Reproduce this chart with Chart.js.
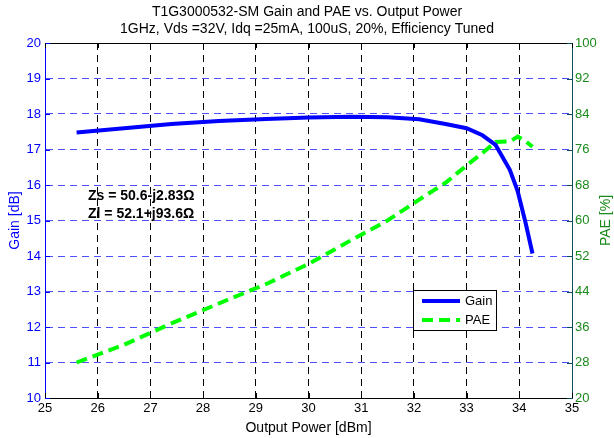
<!DOCTYPE html>
<html><head><meta charset="utf-8">
<script src="https://cdn.jsdelivr.net/npm/chart.js@4/dist/chart.umd.min.js"></script>
<style>html,body{margin:0;padding:0;background:#fff}#wrap{width:614px;height:438px}</style>
</head><body><div id="wrap"><canvas id="c" width="614" height="438"></canvas></div>
<script>
const titleLines = ["T1G3000532-SM Gain and PAE vs. Output Power", "1GHz, Vds =32V, Idq =25mA, 100uS, 20%, Efficiency Tuned"];
const outputPower = [25.6, 26.5, 27.4, 28.3, 29.2, 30.0, 30.8, 31.5, 32.1, 32.6, 33.0, 33.3, 33.55, 33.82, 33.97, 34.12, 34.25];
const gain = [17.48, 17.6, 17.72, 17.8, 17.86, 17.9, 17.92, 17.91, 17.85, 17.72, 17.6, 17.4, 17.13, 16.43, 15.82, 14.93, 14.07];
const pae = [28.0, 32.0, 36.8, 41.3, 45.7, 50.2, 55.5, 60.0, 64.7, 68.5, 72.4, 75.2, 77.7, 77.8, 78.9, 77.9, 76.6];
const xTicks = [25, 26, 27, 28, 29, 30, 31, 32, 33, 34, 35];
const gainTicks = [10, 11, 12, 13, 14, 15, 16, 17, 18, 19, 20];
const paeTicks = [20, 28, 36, 44, 52, 60, 68, 76, 84, 92, 100];
const annotations = ["Zs = 50.6-j2.83\u03A9", "Zl = 52.1+j93.6\u03A9"];
const seriesNames = ["Gain", "PAE"];

const FONT = "'Liberation Sans', Arial, sans-serif";
const gainPts = outputPower.map((x, i) => ({x, y: gain[i]}));
const paePts = outputPower.map((x, i) => ({x, y: pae[i]}));

const custom = {
  id: 'custom',
  afterDraw(chart) {
    const ctx = chart.ctx, a = chart.chartArea;
    const sx = chart.scales.x, sy = chart.scales.y, sy1 = chart.scales.y1;
    ctx.save();
    ctx.strokeStyle = '#000'; ctx.lineWidth = 1;
    ctx.beginPath(); ctx.moveTo(a.left, a.top + 0.5); ctx.lineTo(a.right, a.top + 0.5); ctx.stroke();
    ctx.strokeStyle = '#0000ff';
    gainTicks.forEach(v => { const y = Math.round(sy.getPixelForValue(v)) + 0.5; ctx.beginPath(); ctx.moveTo(a.left, y); ctx.lineTo(a.left + 5, y); ctx.stroke(); });
    ctx.strokeStyle = '#0d4d5d';
    paeTicks.forEach(v => { const y = Math.round(sy1.getPixelForValue(v)) + 0.5; ctx.beginPath(); ctx.moveTo(a.right, y); ctx.lineTo(a.right - 5, y); ctx.stroke(); });
    ctx.strokeStyle = '#000';
    xTicks.forEach(v => { const x = Math.round(sx.getPixelForValue(v)) + 0.5; ctx.beginPath(); ctx.moveTo(x, a.bottom); ctx.lineTo(x, a.bottom - 5); ctx.moveTo(x, a.top); ctx.lineTo(x, a.top + 5); ctx.stroke(); });
    ctx.fillStyle = '#000'; ctx.textAlign = 'center'; ctx.textBaseline = 'middle';
    ctx.font = '14px ' + FONT;
    ctx.fillText(titleLines[0], 307, 12);
    ctx.fillText(titleLines[1], 307, 29);
    ctx.font = '14px ' + FONT;
    ctx.fillText('Output Power [dBm]', (a.left + a.right) / 2, 428);
    ctx.save(); ctx.translate(15, (a.top + a.bottom) / 2); ctx.rotate(-Math.PI / 2);
    ctx.fillStyle = '#0000ff'; ctx.fillText('Gain [dB]', 0, 0); ctx.restore();
    ctx.save(); ctx.translate(606, (a.top + a.bottom) / 2); ctx.rotate(-Math.PI / 2);
    ctx.fillStyle = '#1a8a1a'; ctx.fillText('PAE [%]', 0, 0); ctx.restore();
    ctx.fillStyle = '#000'; ctx.textAlign = 'left'; ctx.textBaseline = 'alphabetic';
    ctx.font = 'bold 14px ' + FONT;
    ctx.fillText(annotations[0], 88, 200);
    ctx.fillText(annotations[1], 88, 218);
    const lx = 413.5, ly = 290.5, lw = 83, lh = 40;
    ctx.fillStyle = '#fff'; ctx.fillRect(lx, ly, lw, lh);
    ctx.strokeStyle = '#000'; ctx.lineWidth = 1; ctx.strokeRect(lx, ly, lw, lh);
    ctx.lineWidth = 4;
    ctx.strokeStyle = '#0000ff'; ctx.setLineDash([]);
    ctx.beginPath(); ctx.moveTo(422, 301); ctx.lineTo(460, 301); ctx.stroke();
    ctx.strokeStyle = '#00ff00'; ctx.setLineDash([11, 6]);
    ctx.beginPath(); ctx.moveTo(422, 320); ctx.lineTo(460, 320); ctx.stroke();
    ctx.setLineDash([]);
    ctx.fillStyle = '#000'; ctx.font = '13px ' + FONT; ctx.textBaseline = 'middle';
    ctx.fillText(seriesNames[0], 465, 301);
    ctx.fillText(seriesNames[1], 465, 320);
    ctx.restore();
  }
};

new Chart(document.getElementById('c'), {
  type: 'line',
  data: {
    datasets: [
      {label: seriesNames[0], data: gainPts, yAxisID: 'y', borderColor: '#0000ff', borderWidth: 4, pointRadius: 0, tension: 0, fill: false},
      {label: seriesNames[1], data: paePts, yAxisID: 'y1', borderColor: '#00ff00', borderWidth: 4, borderDash: [11, 6], pointRadius: 0, tension: 0, fill: false}
    ]
  },
  options: {
    responsive: false, animation: false,
    layout: {padding: {top: 43, left: 0, right: 0, bottom: 0}},
    plugins: {legend: {display: false}, title: {display: false}, tooltip: {enabled: false}},
    scales: {
      x: {
        type: 'linear', min: 25, max: 35,
        afterBuildTicks: s => { s.ticks = xTicks.map(v => ({value: v})); },
        afterFit: s => { s.height = 40; },
        grid: {color: '#000', drawTicks: false},
        border: {color: '#000', width: 1, dash: [7, 5]},
        ticks: {color: '#000', font: {family: FONT, size: 13}, padding: 3, maxRotation: 0}
      },
      y: {
        type: 'linear', position: 'left', min: 10, max: 20,
        afterBuildTicks: s => { s.ticks = gainTicks.map(v => ({value: v})); },
        afterFit: s => { s.width = 45; },
        grid: {color: '#5050ff', drawTicks: false},
        border: {color: '#0000ff', width: 1, dash: [7, 5]},
        ticks: {color: '#0000ff', font: {family: FONT, size: 13}, padding: 4}
      },
      y1: {
        type: 'linear', position: 'right', min: 20, max: 100,
        afterBuildTicks: s => { s.ticks = paeTicks.map(v => ({value: v})); },
        afterFit: s => { s.width = 42; },
        grid: {display: false, drawTicks: false},
        border: {color: '#0d4d5d', width: 1},
        ticks: {color: '#1a8a1a', font: {family: FONT, size: 13}, padding: 3}
      }
    }
  },
  plugins: [custom]
});
</script>
</body></html>
